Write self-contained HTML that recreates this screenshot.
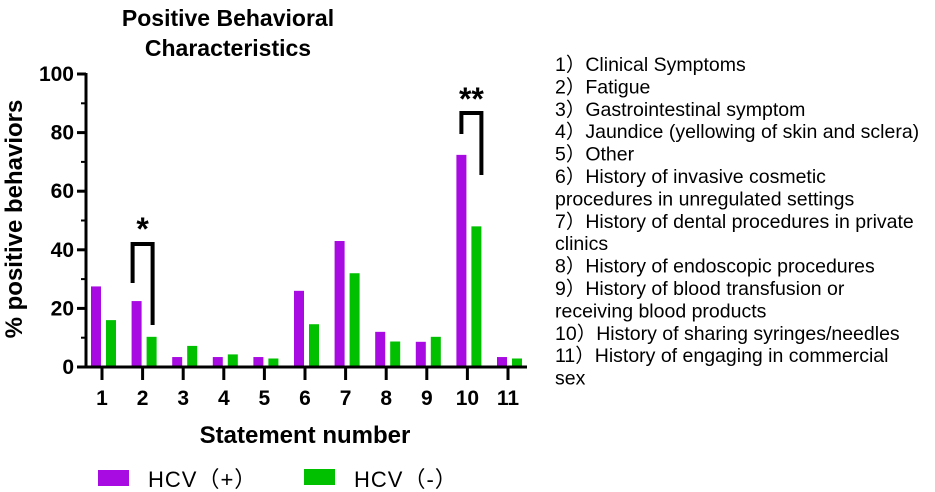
<!DOCTYPE html>
<html><head><meta charset="utf-8"><style>
body{margin:0;background:#fff;width:935px;height:492px;overflow:hidden;font-family:"Liberation Sans","Noto Sans CJK SC",sans-serif}
svg{position:absolute;left:0;top:0}
</style></head><body>
<svg width="935" height="492">
<g id="root"></g>
</svg>
<script>
const categories=["1","2","3","4","5","6","7","8","9","10","11"];
const hcvPos=[27.5,22.5,3.4,3.4,3.4,26,43,12,8.6,72.4,3.4];
const hcvNeg=[16,10.3,7.2,4.3,2.9,14.6,32,8.7,10.3,48,2.9];
const yTicks=[0,20,40,60,80,100];
const legendItems=["1）Clinical Symptoms","2）Fatigue","3）Gastrointestinal symptom","4）Jaundice (yellowing of skin and sclera)","5）Other","6）History of invasive cosmetic","procedures in unregulated settings","7）History of dental procedures in private","clinics","8）History of endoscopic procedures","9）History of blood transfusion or","receiving blood products","10）History of sharing syringes/needles","11）History of engaging in commercial","sex"];
const NS="http://www.w3.org/2000/svg";
const root=document.getElementById('root');
function y(v){return 367-v*2.93;}
function x(i){return 102+i*40.6;}
function mk(tag,attrs,parent){const e=document.createElementNS(NS,tag);for(const k in attrs)e.setAttribute(k,attrs[k]);(parent||root).appendChild(e);return e;}
function txt(s,attrs){const e=mk('text',attrs);e.textContent=s;return e;}
let t=txt("Positive Behavioral",{x:228,y:26,"text-anchor":"middle","font-size":23,"font-weight":"bold"});


t=txt("Characteristics",{x:228,y:56,"text-anchor":"middle","font-size":23,"font-weight":"bold"});


categories.forEach((c,i)=>{
  let b=mk('rect',{x:x(i)-11,y:y(hcvPos[i]),width:10,height:y(0)-y(hcvPos[i]),fill:"#a80ae2"});
  
  
  b=mk('rect',{x:x(i)+4,y:y(hcvNeg[i]),width:10,height:y(0)-y(hcvNeg[i]),fill:"#00c000"});
  
  
  let tk=mk('line',{x1:x(i),x2:x(i),y1:367,y2:380,stroke:"#000","stroke-width":3});
  
  
  let l=txt(c,{x:x(i),y:405,"text-anchor":"middle","font-size":21,"font-weight":"bold"});
  
  
});
let ax=mk('line',{x1:77,x2:527,y1:367,y2:367,stroke:"#000","stroke-width":3});


ax=mk('line',{x1:86,x2:86,y1:73,y2:368,stroke:"#000","stroke-width":3});


yTicks.forEach(v=>{
  let tk=mk('line',{x1:77,x2:86,y1:y(v),y2:y(v),stroke:"#000","stroke-width":3});
  
  
  let l=txt(String(v),{x:74,y:y(v)+7,"text-anchor":"end","font-size":21,"font-weight":"bold"});
  
  
  if(v<100){let m=mk('line',{x1:81,x2:86,y1:y(v+10),y2:y(v+10),stroke:"#000","stroke-width":2});
  
  }
});
t=txt("% positive behaviors",{x:0,y:0,"text-anchor":"middle","font-size":24,"font-weight":"bold",transform:"translate(22,219) rotate(-90)"});


t=txt("Statement number",{x:305,y:443,"text-anchor":"middle","font-size":24,"font-weight":"bold"});


let br=mk('path',{d:`M${x(1)-10} 283 V244 H${x(1)+10} V325`,fill:"none",stroke:"#000","stroke-width":4});


t=txt("*",{x:x(1),y:240,"text-anchor":"middle","font-size":32,"font-weight":"bold"});


br=mk('path',{d:`M${x(9)-6} 134 V113 H${x(9)+14} V175`,fill:"none",stroke:"#000","stroke-width":4});


t=txt("**",{x:x(9)+4,y:110,"text-anchor":"middle","font-size":32,"font-weight":"bold"});


let lg=mk('rect',{x:98,y:470,width:31,height:16,fill:"#a80ae2"});


t=txt("HCV（+）",{x:148,y:487,"font-size":22,"letter-spacing":"1"});


lg=mk('rect',{x:304,y:469,width:31,height:16,fill:"#00c000"});


t=txt("HCV（-）",{x:354,y:487,"font-size":22,"letter-spacing":"1"});


legendItems.forEach((s,i)=>{
  let l=txt(s,{x:555,y:71+i*22.4,"font-size":19.5});
  
  
});
</script>
</body></html>
